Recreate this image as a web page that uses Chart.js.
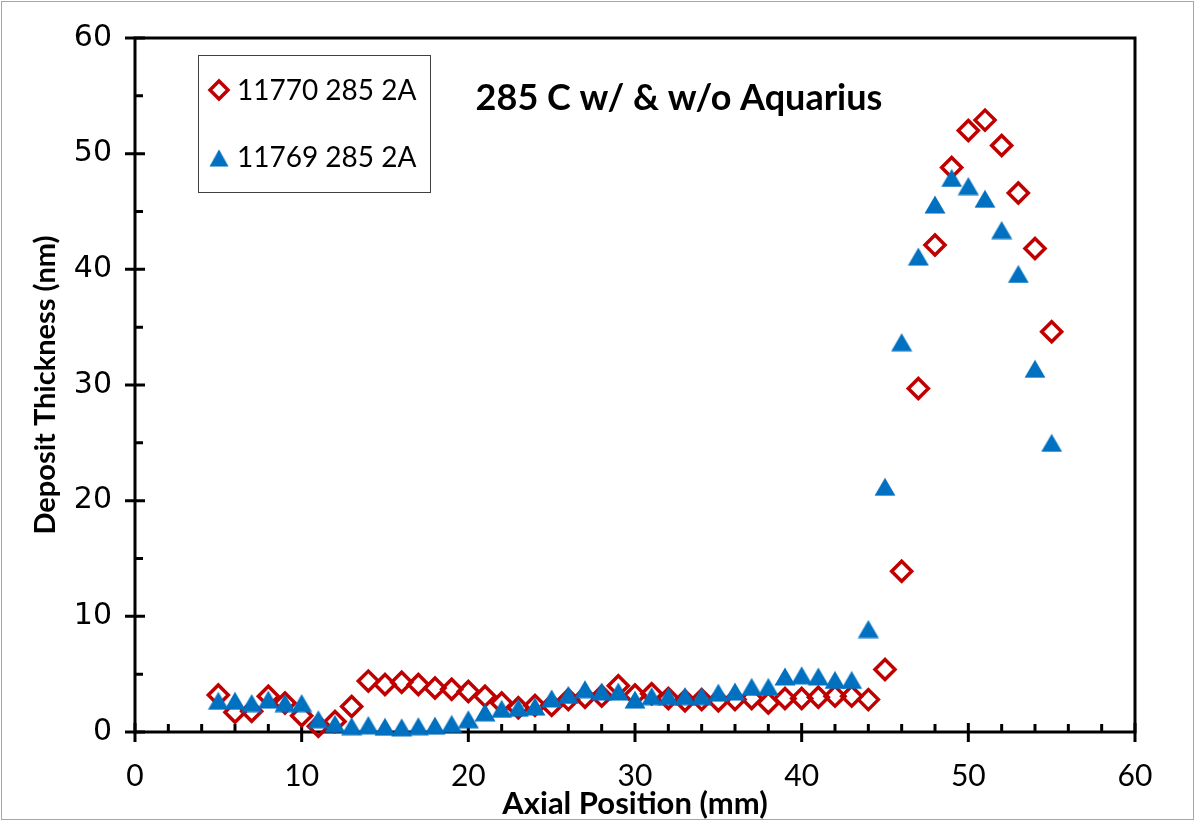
<!DOCTYPE html>
<html>
<head>
<meta charset="utf-8">
<script src="https://cdn.jsdelivr.net/npm/chart.js@4/dist/chart.umd.min.js"></script>
<style>
  html, body { margin: 0; padding: 0; background: #fff; }
  canvas { display: block; }
</style>
</head>
<body>
<canvas id="chart" width="1198" height="823"></canvas>
<script>
// axial position (mm)
const positions = [5, 6, 7, 8, 9, 10, 11, 12, 13, 14, 15, 16, 17, 18, 19, 20, 21, 22, 23, 24, 25, 26, 27, 28, 29, 30,
  31, 32, 33, 34, 35, 36, 37, 38, 39, 40, 41, 42, 43, 44, 45, 46, 47, 48, 49, 50, 51, 52, 53, 54, 55];

// deposit thickness (nm), 11770 285 2A
const run11770 = [3.2, 1.7, 1.8, 3.1, 2.5, 1.4, 0.5, 0.9, 2.2, 4.4, 4.1, 4.3, 4.1, 3.8, 3.7, 3.5, 3.1, 2.5, 2.1, 2.3,
  2.3, 2.8, 3.0, 3.1, 4.0, 3.2, 3.3, 2.9, 2.7, 2.8, 2.7, 2.8, 2.9, 2.5, 2.9, 2.9, 3.0, 3.1, 3.1, 2.8,
  5.4, 13.9, 29.7, 42.1, 48.8, 52.0, 52.9, 50.7, 46.6, 41.8, 34.6];

// deposit thickness (nm), 11769 285 2A
const run11769 = [2.7, 2.7, 2.5, 2.8, 2.5, 2.5, 1.1, 0.7, 0.5, 0.6, 0.45, 0.4, 0.5, 0.55, 0.7, 1.1, 1.7, 2.0, 2.1, 2.2,
  2.9, 3.2, 3.7, 3.5, 3.5, 2.8, 3.1, 3.1, 3.1, 3.1, 3.4, 3.5, 3.9, 3.9, 4.8, 4.9, 4.8, 4.5, 4.5, 8.9,
  21.2, 33.7, 41.1, 45.6, 47.9, 47.2, 46.1, 43.4, 39.6, 31.4, 25.0];

const seriesNames = ['11770 285 2A', '11769 285 2A'];
const chartTitle = '285 C w/ & w/o Aquarius';
const xTicks = [0, 10, 20, 30, 40, 50, 60];
const yTicks = [0, 10, 20, 30, 40, 50, 60];

const RED = '#C00000';
const BLUE = '#0070C0';
const FONT = 'Lato, "Open Sans", sans-serif';

// solid triangle marker, centred on its bounding box like Excel's
const tri = document.createElement('canvas');
tri.width = 22; tri.height = 19;
(function () {
  const c = tri.getContext('2d');
  c.fillStyle = BLUE;
  c.beginPath();
  c.moveTo(11, 0.5);
  c.lineTo(21.5, 18.5);
  c.lineTo(0.5, 18.5);
  c.closePath();
  c.fill();
})();

function diamond(ctx, x, y, r) {
  ctx.beginPath();
  ctx.moveTo(x - r, y);
  ctx.lineTo(x, y - r);
  ctx.lineTo(x + r, y);
  ctx.lineTo(x, y + r);
  ctx.closePath();
  ctx.stroke();
}

const toPoints = vals => positions.map((p, i) => ({ x: p, y: vals[i] }));

// frame, cross / inside tick marks
const frame = {
  id: 'frame',
  beforeDatasetsDraw(chart) {
    const { ctx, chartArea: a, scales: { x, y } } = chart;
    ctx.save();
    ctx.strokeStyle = '#000';
    ctx.lineWidth = 3;
    ctx.strokeRect(a.left, a.top, a.right - a.left, a.bottom - a.top);
    ctx.beginPath();
    for (let v = 0; v <= 60; v += 2) {
      const px = x.getPixelForValue(v);
      if (v % 10 === 0) { ctx.moveTo(px, a.bottom - 9); ctx.lineTo(px, a.bottom + 10); }
      else { ctx.moveTo(px, a.bottom); ctx.lineTo(px, a.bottom - 8); }
    }
    for (let v = 0; v <= 60; v += 5) {
      const py = y.getPixelForValue(v);
      if (v % 10 === 0) { ctx.moveTo(a.left - 10, py); ctx.lineTo(a.left + 10, py); }
      else { ctx.moveTo(a.left, py); ctx.lineTo(a.left + 8, py); }
    }
    ctx.stroke();
    ctx.restore();
  },
  afterDraw(chart) {
    const { ctx } = chart;
    ctx.save();
    // outer chart border
    ctx.strokeStyle = '#A6A6A6';
    ctx.lineWidth = 1;
    ctx.strokeRect(1.5, 1.5, 1192, 818);
    // legend box
    ctx.strokeStyle = '#404040';
    ctx.strokeRect(198.5, 55.5, 232, 137);
    ctx.strokeStyle = RED;
    ctx.lineWidth = 3.5;
    diamond(ctx, 219, 90, 9);
    ctx.drawImage(tri, 219 - 10, 158 - 9, 20, 18);
    ctx.fillStyle = '#000';
    ctx.textBaseline = 'middle';
    ctx.textAlign = 'left';
    ctx.font = '28px ' + FONT;
    ctx.fillText(seriesNames[0], 237, 91);
    ctx.fillText(seriesNames[1], 237, 158);
    // title
    ctx.font = 'bold 36px ' + FONT;
    ctx.textAlign = 'center';
    ctx.fillText(chartTitle, 679, 98);
    ctx.restore();
  }
};

new Chart(document.getElementById('chart'), {
  type: 'scatter',
  data: {
    datasets: [
      {
        label: seriesNames[0],
        data: toPoints(run11770),
        pointStyle: 'rectRot',
        pointRadius: 10,
        pointHoverRadius: 10,
        borderWidth: 3.5,
        borderColor: RED,
        backgroundColor: 'rgba(0,0,0,0)',
        clip: false,
        order: 2
      },
      {
        label: seriesNames[1],
        data: toPoints(run11769),
        pointStyle: tri,
        pointRadius: 11,
        borderWidth: 0,
        backgroundColor: BLUE,
        borderColor: BLUE,
        clip: false,
        order: 1
      }
    ]
  },
  options: {
    responsive: false,
    animation: false,
    events: [],
    layout: { padding: { top: 37, right: 63, left: 0, bottom: 0 } },
    plugins: {
      legend: { display: false },
      tooltip: { enabled: false },
      title: { display: false }
    },
    scales: {
      x: {
        type: 'linear',
        min: 0, max: 60,
        afterBuildTicks: s => { s.ticks = xTicks.map(v => ({ value: v })); },
        afterFit: s => { s.height = 91; },
        grid: { display: false, drawTicks: false },
        border: { display: false },
        ticks: { color: '#000', padding: 26, font: { family: FONT, size: 30 } },
        title: {
          display: true,
          text: 'Axial Position (mm)',
          color: '#000',
          font: { family: FONT, size: 31, weight: 'bold' },
          padding: { top: 0, bottom: 0 }
        }
      },
      y: {
        type: 'linear',
        min: 0, max: 60,
        afterBuildTicks: s => { s.ticks = yTicks.map(v => ({ value: v })); },
        afterFit: s => { s.width = 135; },
        grid: { display: false, drawTicks: false },
        border: { display: false },
        ticks: { color: '#000', padding: 23, font: { family: '"DejaVu Sans", sans-serif', size: 30, lineHeight: 1 } },
        title: {
          display: true,
          text: 'Deposit Thickness (nm)',
          color: '#000',
          font: { family: FONT, size: 29, weight: 'bold' },
          padding: { top: 28, bottom: 0 }
        }
      }
    }
  },
  plugins: [frame]
});
</script>
</body>
</html>
